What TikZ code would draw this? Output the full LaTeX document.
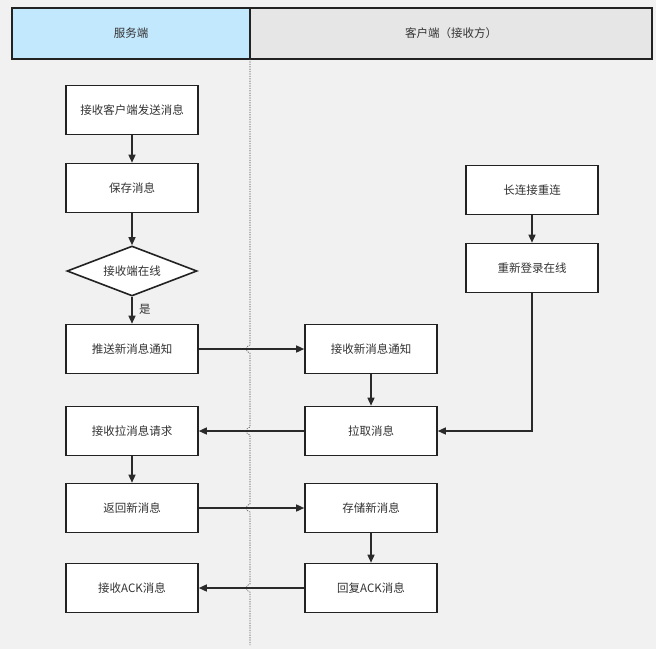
\documentclass[tikz,border=0pt]{standalone}
\usepackage{fontspec}
\setmainfont{Noto Sans CJK SC}
\usetikzlibrary{shapes.geometric,arrows.meta}
\definecolor{bgc}{HTML}{F1F1F1}
\definecolor{srvc}{HTML}{C2E8FD}
\definecolor{clic}{HTML}{E6E6E6}
\definecolor{edgec}{HTML}{222222}
\definecolor{arrc}{HTML}{2A2A2A}
\definecolor{txtc}{HTML}{333333}
\begin{document}
\begin{tikzpicture}[x=1bp,y=-1bp,
  every node/.style={font=\fontsize{11.5bp}{13bp}\selectfont, text=txtc},
  stepbox/.style={rectangle, draw=edgec, line width=1.6bp, fill=white, minimum width=132bp, minimum height=49bp, inner sep=0},
  decide/.style={diamond, draw=edgec, line width=1.6bp, fill=white, aspect=2.6, minimum width=130bp, minimum height=50bp, inner sep=0},
  lanehead/.style={rectangle, draw=edgec, line width=1.6bp, minimum height=51bp, inner sep=0},
  flow/.style={draw=arrc, line width=1.4bp, -{Triangle[length=8bp,width=7bp]}},
  lanesep/.style={draw=black!70, line width=0.6bp, dash pattern=on 1.2bp off 1.2bp}
]
\useasboundingbox (0,0) rectangle (656,649);
\fill[bgc] (0,0) rectangle (656,649);

% lane headers
\node[lanehead, fill=srvc, minimum width=238bp] (hs) at (131,33.5) {服务端};
\node[lanehead, fill=clic, minimum width=402bp] (hc) at (451,33.5) {客户端（接收方）};

% lane separator with jumps
\coordinate (s0) at (250,59);
\coordinate (s1) at (250,645);
\draw[lanesep] (s0) -- (250,345) .. controls (245,346) and (245,352) .. (250,353)
  -- (250,427) .. controls (245,428) and (245,434) .. (250,435)
  -- (250,504) .. controls (245,505) and (245,511) .. (250,512)
  -- (250,584) .. controls (245,585) and (245,591) .. (250,592)
  -- (s1);

% server side
\node[stepbox] (recvmsg) at (132,110) {接收客户端发送消息};
\node[stepbox] (save) at (132,188) {保存消息};
\node[decide] (online) at (132,271) {接收端在线};
\node[stepbox] (push) at (132,349) {推送新消息通知};
\node[stepbox] (recvpull) at (132,431) {接收拉消息请求};
\node[stepbox] (ret) at (132,508) {返回新消息};
\node[stepbox] (recvack) at (132,588) {接收ACK消息};

% client side
\node[stepbox] (reconn) at (532,190) {长连接重连};
\node[stepbox] (relogin) at (532,268) {重新登录在线};
\node[stepbox] (recvnote) at (371,349) {接收新消息通知};
\node[stepbox] (pull) at (371,431) {拉取消息};
\node[stepbox] (store) at (371,508) {存储新消息};
\node[stepbox] (ack) at (371,588) {回复ACK消息};

% connectors
\draw[flow] (recvmsg) -- (save);
\draw[flow] (save) -- (online);
\draw[flow] (online) -- node[right=3bp, pos=0.45] (yes) {是} (push);
\draw[flow] (push) -- (recvnote);
\draw[flow] (recvnote) -- (pull);
\draw[flow] (reconn) -- (relogin);
\draw[flow] (relogin.south) |- (pull.east);
\draw[flow] (pull) -- (recvpull);
\draw[flow] (recvpull) -- (ret);
\draw[flow] (ret) -- (store);
\draw[flow] (store) -- (ack);
\draw[flow] (ack) -- (recvack);
\end{tikzpicture}
\end{document}
